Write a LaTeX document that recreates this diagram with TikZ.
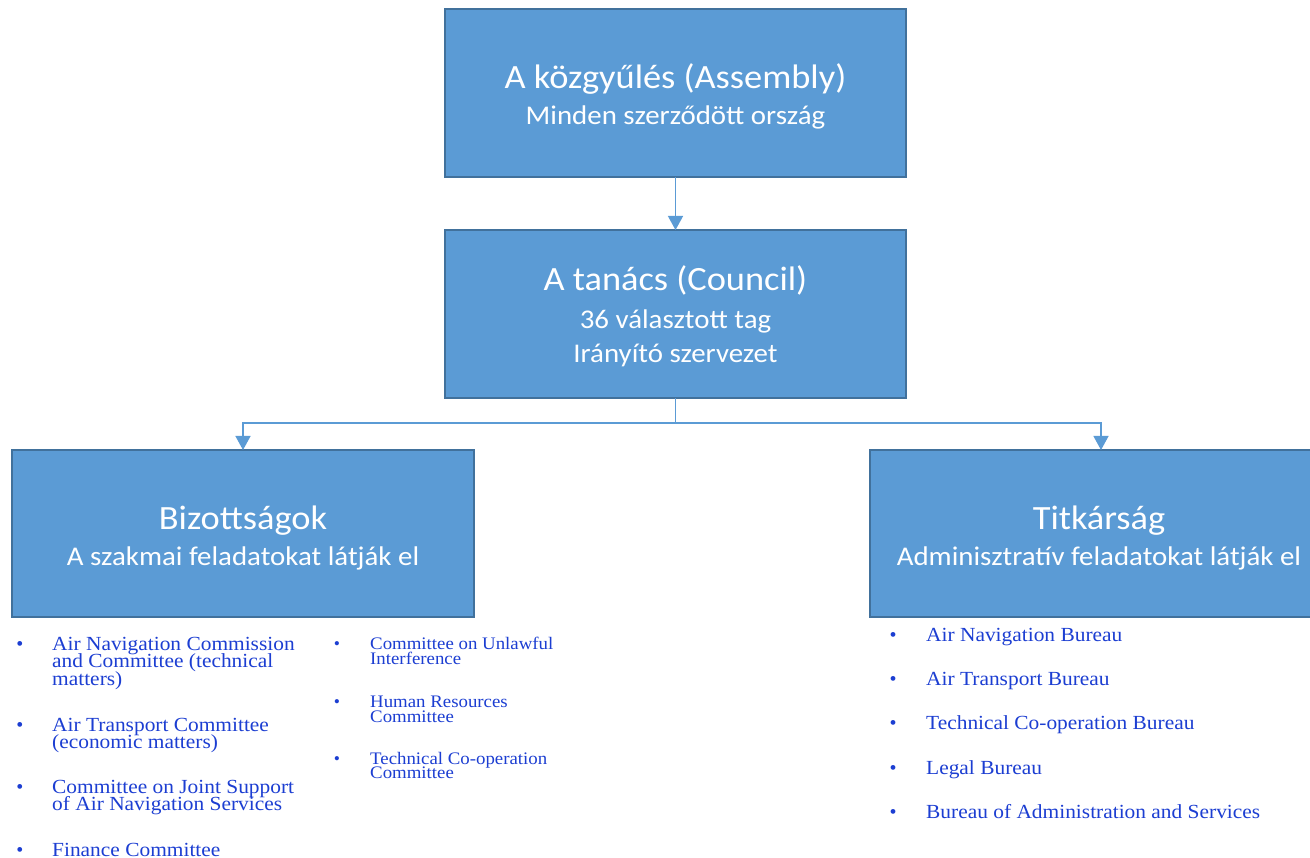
\documentclass[tikz,border=0pt]{standalone}
\usepackage{fontspec}
\usepackage{graphicx}
\setmainfont{Liberation Serif}
\newfontfamily\boxfont{Carlito}
\usetikzlibrary{arrows.meta}
\definecolor{boxfill}{HTML}{5B9BD5}
\definecolor{boxline}{HTML}{41719C}
\definecolor{listblue}{RGB}{28,62,210}
\newcommand\sx[1]{\scalebox{1.07}[1]{#1}}
\newcommand\fontTitle{\boxfont\fontsize{34}{40}\selectfont}
\newcommand\fontSub{\boxfont\fontsize{27}{32}\selectfont}
\newcommand\fontL{\fontsize{20}{17.2}\selectfont\lineskiplimit=-\maxdimen}
\newcommand\fontM{\fontsize{17.6}{14.8}\selectfont\lineskiplimit=-\maxdimen}
\tikzset{
  orgbox/.style={draw=boxline, line width=2pt, fill=boxfill, inner sep=0pt, outer sep=0pt, anchor=north west},
  ttl/.style={text=white, inner sep=0pt, anchor=base, font=\fontTitle},
  sub/.style={text=white, inner sep=0pt, anchor=base, font=\fontSub},
  conn/.style={draw=boxfill, line width=1.3pt},
  arr/.style={conn, -{Triangle[width=15pt,length=14pt]}},
  itemL/.style={text=listblue, inner sep=0pt, anchor=base west, font=\fontL},
  itemM/.style={text=listblue, inner sep=0pt, anchor=base west, font=\fontM},
  bulL/.style={text=listblue, inner sep=0pt, anchor=base, font=\fontL},
  bulM/.style={text=listblue, inner sep=0pt, anchor=base, font=\fontM}
}
\begin{document}
\begin{tikzpicture}[x=1pt,y=1pt]
\useasboundingbox (0,0) rectangle (1310,-858);
\clip (0,0) rectangle (1310,-858);
\fill[white] (0,0) rectangle (1310,-858);

% boxes
\node[orgbox, minimum width=461pt, minimum height=168pt] (asm) at (445,-9) {};
\node[orgbox, minimum width=461pt, minimum height=168pt] (cou) at (445,-230) {};
\node[orgbox, minimum width=462pt, minimum height=167pt] (biz) at (12,-450) {};
\node[orgbox, minimum width=462pt, minimum height=167pt] (tit) at (870,-450) {};

% box texts
\node[ttl] (asmT) at (675.5,-88.3) {\sx{A közgyűlés (Assembly)}};
\node[sub] (asmS) at (675.5,-125) {\sx{Minden szerződött ország}};
\node[ttl] (couT) at (675.5,-291) {\sx{A tanács (Council)}};
\node[sub] (couS1) at (675.5,-329) {\sx{36 választott tag}};
\node[sub] (couS2) at (675.5,-363) {\sx{Irányító szervezet}};
\node[ttl] (bizT) at (243,-529.3) {\sx{Bizottságok}};
\node[sub] (bizS) at (243,-565.5) {\sx{A szakmai feladatokat látják el}};
\node[ttl] (titT) at (1099,-529.3) {\sx{Titkárság}};
\node[sub] (titS) at (1099,-565.5) {\sx{Adminisztratív feladatokat látják el}};

% connectors
\draw[arr] (asm.south) -- (cou.north);
\path (cou.south) ++(0,-25) coordinate (split);
\draw[conn] (cou.south) -- (split);
\draw[arr] (split) -| (biz.north);
\draw[arr] (split) -| (tit.north);

% left list
\node[bulL] (lb1) at (20,-650.7) {•};
\node[itemL] (l1) at (52,-650.7) {\vtop{\hbox{\sx{Air Navigation Commission}}\hbox{\sx{and Committee (technical}}\hbox{\sx{matters)}}}};
\node[bulL] (lb2) at (20,-731.7) {•};
\node[itemL] (l2) at (52,-731.7) {\vtop{\hbox{\sx{Air Transport Committee}}\hbox{\sx{(economic matters)}}}};
\node[bulL] (lb3) at (20,-793.3) {•};
\node[itemL] (l3) at (52,-793.3) {\vtop{\hbox{\sx{Committee on Joint Support}}\hbox{\sx{of Air Navigation Services}}}};
\node[bulL] (lb4) at (20,-856) {•};
\node[itemL] (l4) at (52,-856) {\sx{Finance Committee}};

% middle list
\node[bulM] (mb1) at (337,-649.3) {•};
\node[itemM] (m1) at (370,-649.3) {\vtop{\hbox{\sx{Committee on Unlawful}}\hbox{\sx{Interference}}}};
\node[bulM] (mb2) at (337,-707.3) {•};
\node[itemM] (m2) at (370,-707.3) {\vtop{\hbox{\sx{Human Resources}}\hbox{\sx{Committee}}}};
\node[bulM] (mb3) at (337,-764) {•};
\node[itemM] (m3) at (370,-764) {\vtop{\hbox{\sx{Technical Co-operation}}\hbox{\sx{Committee}}}};

% right list
\node[bulL] (rb1) at (893,-641.7) {•};
\node[itemL] (r1) at (926,-641.7) {\sx{Air Navigation Bureau}};
\node[bulL] (rb2) at (893,-685.8) {•};
\node[itemL] (r2) at (926,-685.8) {\sx{Air Transport Bureau}};
\node[bulL] (rb3) at (893,-729.9) {•};
\node[itemL] (r3) at (926,-729.9) {\sx{Technical Co-operation Bureau}};
\node[bulL] (rb4) at (893,-774) {•};
\node[itemL] (r4) at (926,-774) {\sx{Legal Bureau}};
\node[bulL] (rb5) at (893,-818.1) {•};
\node[itemL] (r5) at (926,-818.1) {\sx{Bureau of Administration and Services}};
\end{tikzpicture}
\end{document}
